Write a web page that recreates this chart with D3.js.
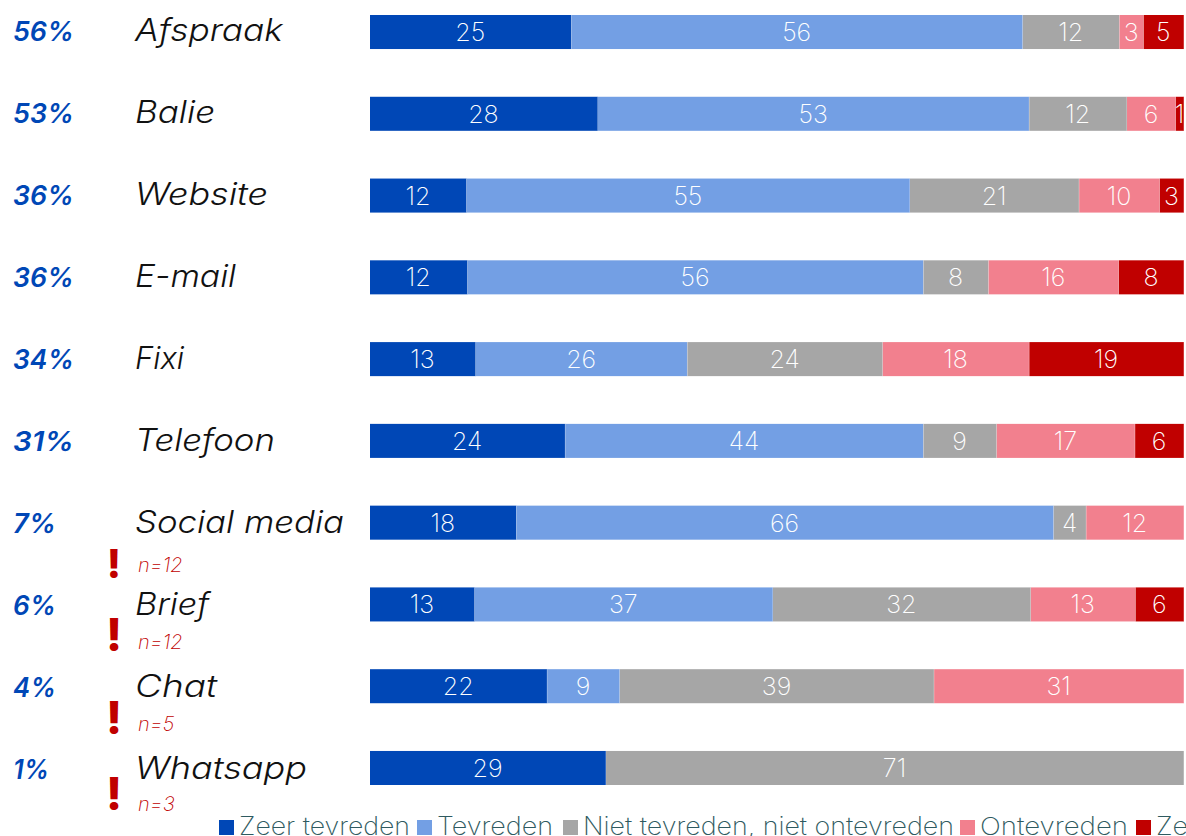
<!DOCTYPE html>
<html>
<head>
<meta charset="utf-8">
<script src="https://cdnjs.cloudflare.com/ajax/libs/d3/7.8.5/d3.min.js"></script>
<style>
html,body{margin:0;padding:0;background:#fff;overflow:hidden}
svg{display:block}
text{font-family:Inter,"Noto Sans",sans-serif}
</style>
</head>
<body>
<svg id="chart" width="1186" height="836"></svg>
<script>
// Satisfaction per contact channel
const channels = ["Afspraak","Balie","Website","E-mail","Fixi","Telefoon","Social media","Brief","Chat","Whatsapp"];
const usage = ["56%","53%","36%","36%","34%","31%","7%","6%","4%","1%"];
const seriesNames = ["Zeer tevreden","Tevreden","Niet tevreden, niet ontevreden","Ontevreden","Zeer ontevreden"];
const zeerTevreden = [25,28,12,12,13,24,18,13,22,29];
const tevreden = [56,53,55,56,26,44,66,37,9,0];
const neutraal = [12,12,21,8,24,9,4,32,39,71];
const ontevreden = [3,6,10,16,18,17,12,13,31,0];
const zeerOntevreden = [5,1,3,8,19,6,0,6,0,0];
const smallSamples = [["Social media","n=12"],["Brief","n=12"],["Chat","n=5"],["Whatsapp","n=3"]];
const palette = ["#0047b6","#739fe4","#a6a6a6","#f2808e","#c00000"];

const svg = d3.select("#chart");
const seriesValues = [zeerTevreden,tevreden,neutraal,ontevreden,zeerOntevreden];
const rows = channels.map((c,i)=>{
  const r = {channel:c};
  seriesNames.forEach((s,j)=>{r[s]=seriesValues[j][i];});
  return r;
});

const x = d3.scaleLinear().domain([0,1]).range([370,1184]);
const y = d3.scaleBand().domain(channels).range([15,785]).paddingInner(0.5838).paddingOuter(0);
// The label column runs on a slightly wider pitch than the bars
const labelY = d3.scalePoint().domain(channels).range([40.5,778.5]);
const color = d3.scaleOrdinal().domain(seriesNames).range(palette);
const stacked = d3.stack().keys(seriesNames).offset(d3.stackOffsetExpand)(rows);
const mid = c => y(c)+y.bandwidth()/2;

// Stacked 100% bars with value labels
const layer = svg.selectAll("g.layer").data(stacked).join("g").attr("class","layer");
layer.selectAll("rect").data(s=>s.filter(d=>d.data[s.key]>0).map(d=>({d,key:s.key})))
  .join("rect")
  .attr("x",o=>x(o.d[0])).attr("width",o=>x(o.d[1])-x(o.d[0]))
  .attr("y",o=>y(o.d.data.channel)).attr("height",y.bandwidth())
  .attr("fill",o=>color(o.key));
layer.selectAll("line").data(s=>s.filter(d=>d.data[s.key]>0).map(d=>({d,key:s.key})))
  .join("line")
  .attr("x1",o=>x(o.d[1])).attr("x2",o=>x(o.d[1]))
  .attr("y1",o=>y(o.d.data.channel)).attr("y2",o=>y(o.d.data.channel)+y.bandwidth())
  .attr("stroke","#fff").attr("stroke-opacity",0.45).attr("stroke-width",1);
layer.selectAll("text").data(s=>s.filter(d=>d.data[s.key]>0).map(d=>({d,key:s.key})))
  .join("text")
  .attr("x",o=>(x(o.d[0])+x(o.d[1]))/2-0.5)
  .attr("y",o=>mid(o.d.data.channel)+9)
  .attr("text-anchor","middle").attr("fill","#fff")
  .style("font-size","25px").style("font-weight",200)
  .text(o=>o.d.data[o.key]);

// Channel usage on the far left
svg.selectAll("text.usage").data(channels).join("text").attr("class","usage")
  .attr("x",13).attr("y",c=>labelY(c))
  .attr("fill","#0047b6").style("font-size","27px").style("font-weight",600).style("font-style","italic")
  .attr("textLength",(c,i)=>usage[i]==="1%"?36:(usage[i].length===3?61:43)).attr("lengthAdjust","spacingAndGlyphs")
  .text((c,i)=>usage[i]);

// Channel names, fitted to a common wide set width
const nameWidths = {"Afspraak":148,"Balie":80,"Website":133,"E-mail":101,"Fixi":49,"Telefoon":140,"Social media":209,"Brief":74,"Chat":82,"Whatsapp":172};
svg.selectAll("text.channel").data(channels).join("text").attr("class","channel")
  .attr("x",135).attr("y",c=>labelY(c))
  .attr("fill","#111").style("font-size","31px").style("font-weight",300).style("font-style","italic")
  .attr("textLength",c=>nameWidths[c]).attr("lengthAdjust","spacingAndGlyphs")
  .text(c=>c);

// Warnings for channels with few respondents
const noteLayout = {"Social media":{n:49,mark:55,size:40},"Brief":{n:45,mark:47,size:45},"Chat":{n:45,mark:48,size:45},"Whatsapp":{n:43,mark:42,size:45}};
const notes = svg.selectAll("g.note").data(smallSamples).join("g").attr("class","note");
notes.append("text")
  .attr("x",114).attr("y",d=>mid(d[0])+noteLayout[d[0]].mark)
  .attr("text-anchor","middle").attr("fill","#c00000")
  .style("font-size",d=>noteLayout[d[0]].size+"px").style("font-weight",800)
  .text("!");
notes.append("text")
  .attr("x",138).attr("y",d=>mid(d[0])+noteLayout[d[0]].n)
  .attr("fill","#c00000").style("font-size","20px").style("font-weight",200).style("font-style","italic")
  .text(d=>d[1]);

// Legend along the bottom edge; the last entry runs past the right-hand side
const legendX = [219,417,563,960,1136];
const legendWidths = [171,116,371,148,205];
const legend = svg.selectAll("g.legend").data(seriesNames).join("g").attr("class","legend")
  .attr("transform",(s,i)=>`translate(${legendX[i]},820)`);
legend.append("rect").attr("width",15).attr("height",15).attr("fill",s=>color(s));
legend.append("text").attr("x",20).attr("y",15)
  .attr("fill","#2f5a60").style("font-size","25px").style("font-weight",200)
  .attr("textLength",(s,i)=>legendWidths[i]).attr("lengthAdjust","spacingAndGlyphs")
  .text(s=>s);
</script>
</body>
</html>
